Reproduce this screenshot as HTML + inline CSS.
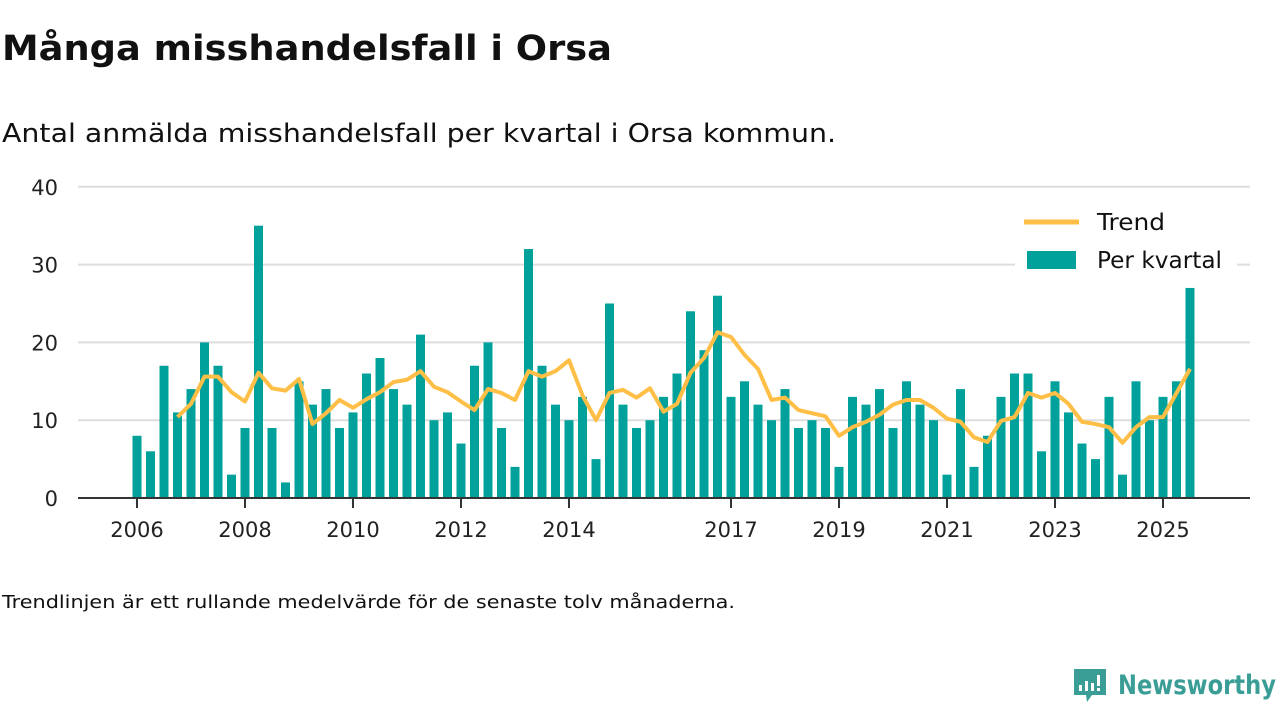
<!DOCTYPE html>
<html><head><meta charset="utf-8"><style>
body{margin:0;background:#fff;width:1280px;height:720px;overflow:hidden;font-family:"DejaVu Sans","Liberation Sans",sans-serif;color:#111}
#logo{position:absolute;left:1073px;top:668px;width:210px;height:44px}
svg text{font-family:"DejaVu Sans","Liberation Sans",sans-serif}
</style></head><body>
<svg id="chart" width="1280" height="720" style="position:absolute;left:0;top:0">
<text x="2" y="60" font-size="35" font-weight="bold" fill="#111" textLength="610" lengthAdjust="spacingAndGlyphs">Många misshandelsfall i Orsa</text>
<text x="2" y="142" font-size="26" fill="#111" textLength="834" lengthAdjust="spacingAndGlyphs">Antal anmälda misshandelsfall per kvartal i Orsa kommun.</text>
<text x="2" y="608" font-size="18" fill="#111" textLength="733" lengthAdjust="spacingAndGlyphs">Trendlinjen är ett rullande medelvärde för de senaste tolv månaderna.</text>
</svg>
<svg id="logo" viewBox="0 0 210 44">
<path d="M1 1h32v26h-14l-5 7-1-7h-12z" fill="#3a9e96"/>
<rect x="6" y="17" width="3" height="6" fill="#fff"/><rect x="12" y="13" width="3" height="10" fill="#fff"/><rect x="18" y="15" width="3" height="8" fill="#fff"/><rect x="24" y="7" width="3" height="11" fill="#fff"/><rect x="24" y="20" width="3" height="3" fill="#fff"/>
<text x="45" y="26" font-size="27" font-weight="bold" fill="#3a9e96" textLength="158" lengthAdjust="spacingAndGlyphs">Newsworthy</text>
</svg>
<script>
const years=["2006","2008","2010","2012","2014","2017","2019","2021","2023","2025"];
const yearIndex=[0,8,16,24,32,44,52,60,68,76];
const perKvartal=[8,6,17,11,14,20,17,3,9,35,9,2,15,12,14,9,11,16,18,14,12,21,10,11,7,17,20,9,4,32,17,12,10,13,5,25,12,9,10,13,16,24,19,26,13,15,12,10,14,9,10,9,4,13,12,14,9,15,12,10,3,14,4,8,13,16,16,6,15,11,7,5,13,3,15,10,13,15,27];
const trend=[10.4,12.1,15.6,15.6,13.6,12.4,16.1,14.1,13.8,15.3,9.5,10.9,12.6,11.6,12.7,13.6,14.9,15.2,16.3,14.3,13.6,12.4,11.3,14.0,13.5,12.6,16.3,15.6,16.3,17.7,13.2,10.0,13.5,13.9,12.9,14.1,11.1,12.1,16.1,18.0,21.3,20.7,18.4,16.6,12.6,12.9,11.3,10.9,10.5,8.0,9.1,9.8,10.7,12.0,12.6,12.6,11.6,10.2,9.8,7.8,7.2,9.9,10.4,13.5,12.9,13.5,12.1,9.8,9.5,9.1,7.1,9.1,10.4,10.4,13.5,16.6];
const trendStart=3;
const yTicks=[0,10,20,30,40];
const NS="http://www.w3.org/2000/svg";
const svg=document.getElementById('chart');
const x=i=>137+i*13.5;
const y=v=>498-v*7.78;
function mk(t,a){const e=document.createElementNS(NS,t);for(const k in a)e.setAttribute(k,a[k]);svg.appendChild(e);return e;}
yTicks.forEach(v=>{
 const g=mk('line',{x1:78,x2:1250,y1:y(v),y2:y(v),stroke:v===0?'#333':'#ddd','stroke-width':2});
 
 
 const t=mk('text',{x:58,y:y(v)+8,'text-anchor':'end','font-size':21,fill:'#222'});t.textContent=v;
 
 
});
perKvartal.forEach((v,i)=>{
 const r=mk('rect',{x:x(i)-4.5,y:y(v),width:9,height:y(0)-y(v)-1,fill:'#00a19a'});
 
 
});
years.forEach((yr,k)=>{
 const xi=x(yearIndex[k]);
 const l=mk('line',{x1:xi,x2:xi,y1:499,y2:508,stroke:'#333','stroke-width':2});
 
 
 const t=mk('text',{x:xi,y:537,'text-anchor':'middle','font-size':21,fill:'#222'});t.textContent=yr;
 
 
});
const pts=trend.map((v,i)=>x(i+trendStart)+','+y(v)).join(' ');
const pl=mk('polyline',{points:pts,fill:'none',stroke:'#ffbf47','stroke-width':4,'stroke-linejoin':'round'});


const bg=mk('rect',{x:1015,y:200,width:222,height:80,fill:'#fff'});


const ll=mk('line',{x1:1024,x2:1079,y1:222,y2:222,stroke:'#ffbf47','stroke-width':5});


const lt=mk('text',{x:1097,y:230,'font-size':23,fill:'#111',textLength:68,lengthAdjust:'spacingAndGlyphs'});lt.textContent='Trend';


const lb=mk('rect',{x:1027,y:251,width:49,height:18,fill:'#00a19a'});


const lt2=mk('text',{x:1097,y:268,'font-size':23,fill:'#111',textLength:125,lengthAdjust:'spacingAndGlyphs'});lt2.textContent='Per kvartal';


</script>
</body></html>
